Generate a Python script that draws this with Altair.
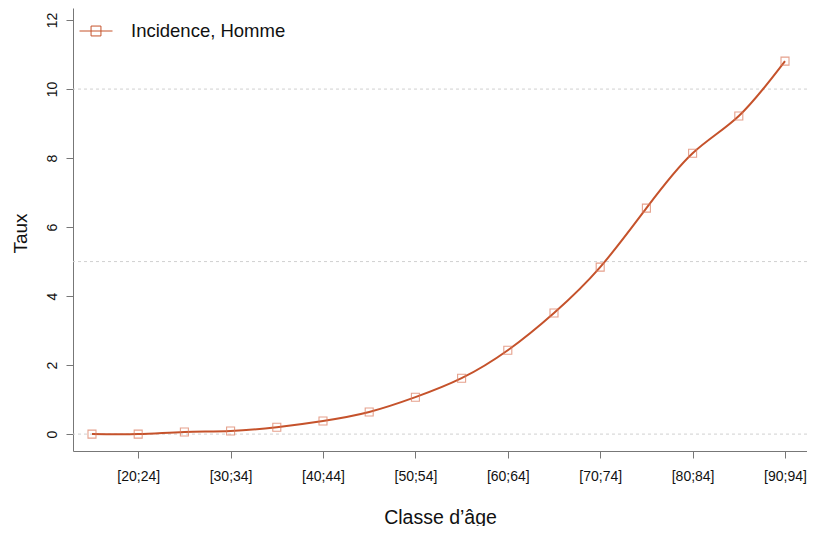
import altair as alt
import pandas as pd

# ---- data ----
categories = ["[15;19]", "[20;24]", "[25;29]", "[30;34]", "[35;39]", "[40;44]",
              "[45;49]", "[50;54]", "[55;59]", "[60;64]", "[65;69]", "[70;74]",
              "[75;79]", "[80;84]", "[85;89]", "[90;94]"]
taux = [0.0, 0.0, 0.06, 0.09, 0.2, 0.38, 0.64, 1.07, 1.62, 2.43, 3.51,
        4.84, 6.55, 8.14, 9.22, 10.81]
serie = "Incidence, Homme"
grid_values = [0, 5, 10]
y_ticks = [0, 2, 4, 6, 8, 10, 12]
x_tick_positions = list(range(2, len(categories) + 1, 2))

# ---- styles ----
LINE_COLOR = "#C5522B"
POINT_COLOR = "#DB7A5C"
FONT = "Liberation Sans"

df = pd.DataFrame({
    "rang": list(range(1, len(categories) + 1)),
    "classe": categories,
    "taux": taux,
    "serie": [serie] * len(categories),
})
grid_df = pd.DataFrame({"v": grid_values})

label_array = "[" + ",".join("'" + c + "'" for c in categories) + "]"

x_scale = alt.Scale(domain=[0.589, 16.476], nice=False, zero=False)
y_scale = alt.Scale(domain=[-0.49, 12.35], nice=False, zero=False)

x_axis = alt.Axis(
    values=x_tick_positions,
    labelExpr=label_array + "[datum.value - 1]",
    grid=False, domainColor="#777777", tickColor="#777777", domainWidth=1,
    tickSize=7, labelPadding=11, labelFontSize=14, labelColor="#111111",
    labelFont=FONT, title="Classe d\u2019\u00e2ge", titleFont=FONT,
    titleFontSize=19.5, titleFontWeight="normal", titleColor="#111111",
    titleY=72, titleBaseline="alphabetic", labelFlush=False, labelOverlap=False,
)
y_axis = alt.Axis(
    values=y_ticks, grid=False, domainColor="#777777", tickColor="#777777",
    domainWidth=1, tickSize=7, labelAngle=270, labelAlign="center",
    labelBaseline="bottom", labelPadding=7, labelFontSize=14,
    labelColor="#111111", labelFont=FONT, title="Taux", titleFont=FONT,
    titleFontSize=19, titleFontWeight="normal", titleColor="#111111",
    titleAngle=270, titleX=-53, titleY=225, titleAlign="center",
    titleBaseline="middle", labelFlush=False,
)

grid = alt.Chart(grid_df).mark_rule(
    strokeDash=[3, 3], color="#d0d0d0", strokeWidth=1
).encode(y=alt.Y("v:Q", scale=y_scale, axis=y_axis))

line = alt.Chart(df).mark_line(
    interpolate="natural", strokeWidth=2
).encode(
    x=alt.X("rang:Q", scale=x_scale, axis=x_axis),
    y=alt.Y("taux:Q", scale=y_scale, axis=y_axis),
    color=alt.Color(
        "serie:N",
        scale=alt.Scale(range=[LINE_COLOR]),
        legend=alt.Legend(
            title=None, orient="none", legendX=6, legendY=6, padding=0,
            symbolType="M-1,0L1,0M-0.3,-0.3L0.3,-0.3L0.3,0.3L-0.3,0.3Z",
            symbolSize=1089, symbolStrokeWidth=1, symbolStrokeColor=POINT_COLOR,
            symbolFillColor="transparent", labelFontSize=18.5, labelFont=FONT,
            labelColor="#111111", labelOffset=18,
        ),
    ),
)

points = alt.Chart(df).mark_point(
    shape="square", filled=False, size=64, strokeWidth=1.1, color=POINT_COLOR
).encode(
    x=alt.X("rang:Q", scale=x_scale, axis=x_axis),
    y=alt.Y("taux:Q", scale=y_scale, axis=y_axis),
)

chart = alt.layer(grid, line, points).properties(
    width=734, height=443,
    autosize=alt.AutoSizeParams(type="none"),
    padding={"left": 65, "top": 0, "right": 0, "bottom": 75},
).configure_view(strokeWidth=0)

chart.save("out.html", embed_options={"renderer": "svg", "actions": False})
